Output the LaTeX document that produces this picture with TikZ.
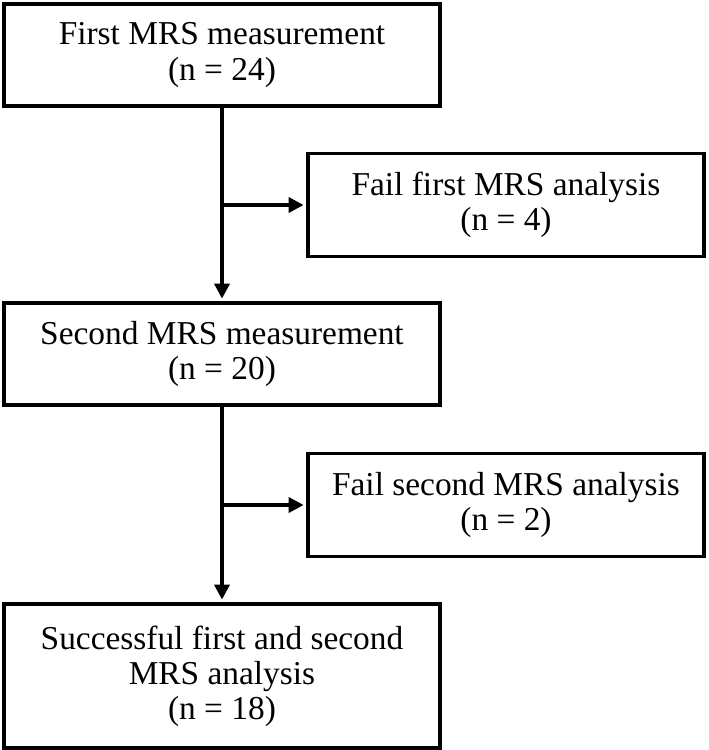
\documentclass[tikz,border=0pt]{standalone}
\usepackage{fontspec}
\setmainfont{Liberation Serif}
\usetikzlibrary{arrows.meta}

\begin{document}
\begin{tikzpicture}
					\useasboundingbox (0,0) rectangle (14.18,15);
					\tikzstyle{every node}=[font=\fontsize{19}{20}\selectfont, align=center];
					\tikzstyle{stepbox}=[draw, line width=2pt, minimum width=8.72cm, minimum height=2.04cm, inner sep=0pt];
					\tikzstyle{failbox}=[stepbox, minimum width=7.92cm, minimum height=2.06cm];
					\tikzstyle{flow}=[line width=2pt, -{Triangle[length=0.3cm,width=0.3cm]}, shorten >=1.5pt];
					\path (4.44,13.9) node[stepbox] (v0) {First MRS measurement\\(n = 24)};
					\path (10.12,10.9) node[failbox] (v1) {Fail first MRS analysis\\(n = 4)};
					\path (4.44,7.92) node[stepbox] (v2) {Second MRS measurement\\(n = 20)};
					\path (10.12,4.9) node[failbox] (v3) {Fail second MRS analysis\\(n = 2)};
					\path (4.44,1.48) node[stepbox, minimum height=2.88cm] (v4) {Successful first and second\\MRS analysis\\(n = 18)};
					\draw[flow] (v0.south) -- (v2.north);
					\draw[flow] (v2.south) -- (v4.north);
					\draw[flow] (v0.south |- v1.west) -- (v1.west);
					\draw[flow] (v2.south |- v3.west) -- (v3.west);
					\end{tikzpicture}
\end{document}
